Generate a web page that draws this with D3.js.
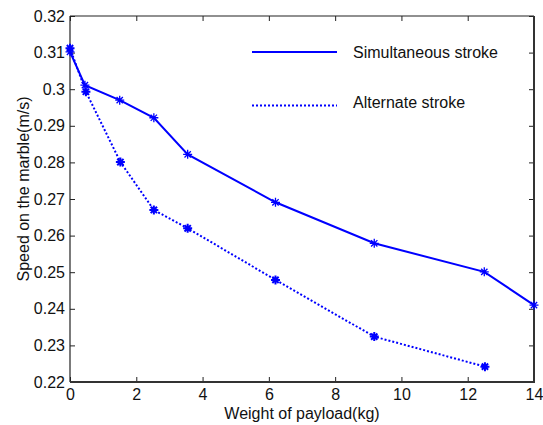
<!DOCTYPE html>
<html>
<head>
<meta charset="utf-8">
<script src="https://cdn.jsdelivr.net/npm/d3@7"></script>
<style>
  body { margin: 0; background: #fff; }
  svg text { font-family: "Liberation Sans", Arial, sans-serif; fill: #111; }
</style>
</head>
<body>
<div id="chart"></div>
<script>
// weights (kg) and speeds (m/s)
const simWeight = [0, 0.45, 1.5, 2.53, 3.55, 6.2, 9.18, 12.5, 14];
const simSpeed = [0.3102, 0.3011, 0.297, 0.2922, 0.2822, 0.2691, 0.2579, 0.2501, 0.241];
const altWeight = [0, 0.48, 1.52, 2.53, 3.55, 6.2, 9.18, 12.52];
const altSpeed = [0.3112, 0.2993, 0.2801, 0.267, 0.262, 0.2479, 0.2324, 0.2242];
const xTicks = [0, 2, 4, 6, 8, 10, 12, 14];
const yTicks = [0.22, 0.23, 0.24, 0.25, 0.26, 0.27, 0.28, 0.29, 0.3, 0.31, 0.32];
const seriesNames = ['Simultaneous stroke', 'Alternate stroke'];

const width = 543, height = 425;
const margin = { top: 16, right: 9, bottom: 43, left: 70 };

const svg = d3.select('#chart').append('svg')
  .attr('width', width)
  .attr('height', height);

const x = d3.scaleLinear().domain([0, 14]).range([margin.left, width - margin.right]);
const y = d3.scaleLinear().domain([0.22, 0.32]).range([height - margin.bottom, margin.top]);

const fmtY = d => d3.format('.2f')(d).replace(/0$/, '').replace(/\.$/, '');

// axes with inward ticks on all four sides
const tick = 5;
const bottomAxis = svg.append('g')
  .attr('transform', `translate(0,${y(0.22)})`)
  .call(d3.axisBottom(x).tickValues(xTicks).tickSize(-tick).tickPadding(7).tickFormat(d3.format('d')));
const leftAxis = svg.append('g')
  .attr('transform', `translate(${x(0)},0)`)
  .call(d3.axisLeft(y).tickValues(yTicks).tickSize(-tick).tickPadding(5).tickFormat(fmtY));
const topAxis = svg.append('g')
  .attr('transform', `translate(0,${y(0.32)})`)
  .call(d3.axisTop(x).tickValues(xTicks).tickSize(-tick).tickFormat(''));
const rightAxis = svg.append('g')
  .attr('transform', `translate(${x(14)},0)`)
  .call(d3.axisRight(y).tickValues(yTicks).tickSize(-tick).tickFormat(''));

[bottomAxis, leftAxis, topAxis, rightAxis].forEach(g => {
  g.select('.domain').remove();
  g.selectAll('line').attr('stroke', '#222');
  g.selectAll('text').attr('font-size', 16).attr('fill', '#111')
    .style('font-family', '"Liberation Sans", Arial, sans-serif');
});

// box
svg.append('line').attr('x1', x(0)).attr('x2', x(14)).attr('y1', y(0.32)).attr('y2', y(0.32))
  .attr('stroke', '#222').attr('stroke-width', 1.2);
svg.append('line').attr('x1', x(0)).attr('x2', x(0)).attr('y1', y(0.32)).attr('y2', y(0.22))
  .attr('stroke', '#222').attr('stroke-width', 1.2);
svg.append('line').attr('x1', x(14)).attr('x2', x(14)).attr('y1', y(0.32)).attr('y2', y(0.22) + 1)
  .attr('stroke', '#333').attr('stroke-width', 2);
svg.append('line').attr('x1', x(0)).attr('x2', x(14) + 1).attr('y1', y(0.22)).attr('y2', y(0.22))
  .attr('stroke', '#333').attr('stroke-width', 2);

// axis labels
svg.append('text')
  .attr('x', (x(0) + x(14)) / 2)
  .attr('y', 419)
  .attr('text-anchor', 'middle')
  .attr('font-size', 16)
  .text('Weight of payload(kg)');

svg.append('text')
  .attr('transform', `translate(29,189) rotate(-90)`)
  .attr('text-anchor', 'middle')
  .attr('font-size', 16)
  .text('Speed on the marble(m/s)');

const blue = '#0000ff';
const line = d3.line().x(d => x(d[0])).y(d => y(d[1]));

const simData = simWeight.map((w, i) => [w, simSpeed[i]]);
const altData = altWeight.map((w, i) => [w, altSpeed[i]]);

svg.append('path').datum(simData)
  .attr('d', line)
  .attr('fill', 'none').attr('stroke', blue).attr('stroke-width', 2);

svg.append('path').datum(altData)
  .attr('d', line)
  .attr('fill', 'none').attr('stroke', blue).attr('stroke-width', 2)
  .attr('stroke-dasharray', '2,2');

// asterisk markers
function star(s) {
  const d = s * 0.7;
  return `M${-s},0H${s}M0,${-s}V${s}M${-d},${-d}L${d},${d}M${-d},${d}L${d},${-d}`;
}

svg.append('g').selectAll('path').data(simData).join('path')
  .attr('transform', d => `translate(${x(d[0])},${y(d[1])})`)
  .attr('d', star(4.5))
  .attr('fill', 'none').attr('stroke', blue).attr('stroke-width', 1.3);

svg.append('g').selectAll('path').data(altData).join('path')
  .attr('transform', d => `translate(${x(d[0])},${y(d[1])})`)
  .attr('d', star(4.5))
  .attr('fill', 'none').attr('stroke', blue).attr('stroke-width', 2);

// legend
const legend = svg.append('g');
const legendY = [52, 105.5];
seriesNames.forEach((name, i) => {
  legend.append('line')
    .attr('x1', 252).attr('x2', 337)
    .attr('y1', legendY[i]).attr('y2', legendY[i])
    .attr('stroke', blue).attr('stroke-width', 2)
    .attr('stroke-dasharray', i === 1 ? '2,2' : null);
  legend.append('text')
    .attr('x', 353).attr('y', legendY[i] + (i === 1 ? -3 : 0))
    .attr('dy', '0.35em')
    .attr('font-size', 16)
    .text(name);
});
</script>
</body>
</html>
